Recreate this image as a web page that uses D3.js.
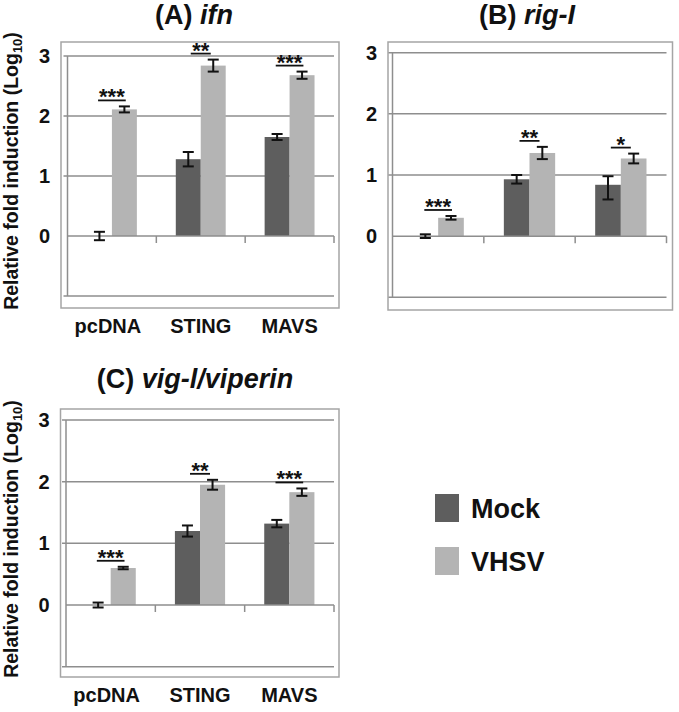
<!DOCTYPE html>
<html>
<head>
<meta charset="utf-8">
<script src="https://cdn.jsdelivr.net/npm/d3@7/dist/d3.min.js"></script>
<style>
  html, body { margin: 0; padding: 0; background: #fff; }
  svg { display: block; font-family: Arial, "Liberation Sans", sans-serif; }
</style>
</head>
<body>
<svg id="chart" width="679" height="712"></svg>
<script>
// ---------- data ----------
const categories = ["pcDNA", "STING", "MAVS"];
const seriesNames = ["Mock", "VHSV"];
const yTickValues = [0, 1, 2, 3];
const gridValues = [-1, 1, 2, 3];

const ifnMock = [0.00, 1.28, 1.65];
const ifnMockErr = [0.07, 0.12, 0.05];
const ifnVHSV = [2.11, 2.84, 2.68];
const ifnVHSVErr = [0.05, 0.10, 0.06];
const ifnSig = ["***", "**", "***"];

const rigMock = [0.00, 0.93, 0.84];
const rigMockErrUp = [0.03, 0.07, 0.14];
const rigMockErrDown = [0.03, 0.07, 0.24];
const rigVHSV = [0.30, 1.36, 1.27];
const rigVHSVErr = [0.03, 0.10, 0.08];
const rigSig = ["***", "**", "*"];

const vigMock = [0.00, 1.20, 1.32];
const vigMockErr = [0.04, 0.09, 0.06];
const vigVHSV = [0.60, 1.95, 1.83];
const vigVHSVErr = [0.02, 0.08, 0.06];
const vigSig = ["***", "**", "***"];

// ---------- styling / layout ----------
const colors = { Mock: "#5e5e5e", VHSV: "#b4b4b4" };
const gridColor = "#8e8e8e";
const frameColor = "#a5a5a5";

const panels = [
  { title: "(A) ", gene: "ifn",
    mock: ifnMock, mockUp: ifnMockErr, mockDown: ifnMockErr,
    vhsv: ifnVHSV, vhsvUp: ifnVHSVErr, vhsvDown: ifnVHSVErr, sig: ifnSig,
    frame: [61, 42, 339, 308], axisX: 67.5, right: 334, yTop: 56, yBottom: 296,
    titleX: 194, titleY: 24, yLabel: true, xLabels: true },
  { title: "(B) ", gene: "rig-I",
    mock: rigMock, mockUp: rigMockErrUp, mockDown: rigMockErrDown,
    vhsv: rigVHSV, vhsvUp: rigVHSVErr, vhsvDown: rigVHSVErr, sig: rigSig,
    frame: [388, 42, 672.5, 310], axisX: 392.5, right: 666.5, yTop: 52.7, yBottom: 297.3,
    titleX: 527, titleY: 24, yLabel: false, xLabels: false },
  { title: "(C) ", gene: "vig-l/viperin",
    mock: vigMock, mockUp: vigMockErr, mockDown: vigMockErr,
    vhsv: vigVHSV, vhsvUp: vigVHSVErr, vhsvDown: vigVHSVErr, sig: vigSig,
    frame: [60.5, 409, 339, 677], axisX: 66, right: 334, yTop: 420, yBottom: 666.7,
    titleX: 195, titleY: 388, yLabel: true, xLabels: true }
];

const svg = d3.select("#chart");

panels.forEach(p => {
  const g = svg.append("g");
  const [fx0, fy0, fx1, fy1] = p.frame;

  const y = d3.scaleLinear().domain([-1, 3]).range([p.yBottom, p.yTop]);
  const x0 = d3.scaleBand().domain(categories).range([p.axisX, p.right]).padding(0);
  const x1 = d3.scaleBand().domain(seriesNames).range([0, x0.bandwidth()])
    .paddingInner(0).paddingOuter(0.78);

  // frame
  g.append("rect")
    .attr("x", fx0).attr("y", fy0).attr("width", fx1 - fx0).attr("height", fy1 - fy0)
    .attr("fill", "none").attr("stroke", frameColor).attr("stroke-width", 1.5);

  // gridlines
  g.selectAll(".grid").data(gridValues).join("line")
    .attr("x1", p.axisX - 4).attr("x2", p.right)
    .attr("y1", d => y(d)).attr("y2", d => y(d))
    .attr("stroke", gridColor).attr("stroke-width", 1.5);

  // y axis line
  g.append("line")
    .attr("x1", p.axisX).attr("x2", p.axisX)
    .attr("y1", y(3)).attr("y2", y(-1))
    .attr("stroke", gridColor).attr("stroke-width", 1.5);

  // y tick labels
  g.selectAll(".ytl").data(yTickValues).join("text")
    .attr("x", fx0 - 11).attr("y", d => y(d))
    .attr("dy", "0.35em")
    .attr("text-anchor", "end")
    .attr("font-size", 20).attr("font-weight", "bold").attr("fill", "#111")
    .text(d => d);

  // bars
  const rows = categories.map((c, i) => ({
    cat: c, i,
    vals: [
      { s: "Mock", v: p.mock[i], up: p.mockUp[i], down: p.mockDown[i] },
      { s: "VHSV", v: p.vhsv[i], up: p.vhsvUp[i], down: p.vhsvDown[i] }
    ]
  }));

  rows.forEach(r => {
    r.vals.forEach(d => {
      const bx = x0(r.cat) + x1(d.s);
      g.append("rect")
        .attr("x", bx).attr("width", x1.bandwidth())
        .attr("y", y(Math.max(0, d.v)))
        .attr("height", Math.abs(y(d.v) - y(0)))
        .attr("fill", colors[d.s]);
    });
  });

  // zero axis line + category tick marks
  g.append("line")
    .attr("x1", p.axisX).attr("x2", p.right)
    .attr("y1", y(0)).attr("y2", y(0))
    .attr("stroke", gridColor).attr("stroke-width", 1.5);
  g.selectAll(".ctick").data(categories).join("line")
    .attr("x1", d => x0(d) + x0.bandwidth()).attr("x2", d => x0(d) + x0.bandwidth())
    .attr("y1", y(0)).attr("y2", y(0) + 7)
    .attr("stroke", gridColor).attr("stroke-width", 1.5);

  // error bars
  rows.forEach(r => {
    r.vals.forEach(d => {
      const cx = x0(r.cat) + x1(d.s) + x1.bandwidth() / 2;
      const yt = y(d.v + d.up), yb = y(d.v - d.down);
      g.append("line").attr("x1", cx).attr("x2", cx).attr("y1", yt).attr("y2", yb)
        .attr("stroke", "#111").attr("stroke-width", 2);
      [yt, yb].forEach(yy => {
        g.append("line").attr("x1", cx - 5.5).attr("x2", cx + 5.5).attr("y1", yy).attr("y2", yy)
          .attr("stroke", "#111").attr("stroke-width", 2);
      });
    });
  });

  // significance
  rows.forEach(r => {
    const top = d3.max(r.vals, d => d.v + d.up);
    const ly = y(top) - 6;
    const cx = x0(r.cat) + x0.bandwidth() / 2;
    const t = g.append("text")
      .attr("x", cx).attr("y", ly + 4)
      .attr("text-anchor", "middle")
      .attr("font-size", 22).attr("font-weight", "bold").attr("fill", "#111")
      .text(p.sig[r.i]);
    const w = Math.max(20, t.node().getComputedTextLength() + 2);
    g.append("line").attr("x1", cx - w / 2).attr("x2", cx + w / 2)
      .attr("y1", ly).attr("y2", ly)
      .attr("stroke", "#111").attr("stroke-width", 1.8);
  });

  // x labels
  if (p.xLabels) {
    g.selectAll(".xl").data(categories).join("text")
      .attr("x", d => x0(d) + x0.bandwidth() / 2 + (d === "pcDNA" ? -4 : 0))
      .attr("y", fy1 + 25)
      .attr("text-anchor", "middle")
      .attr("font-size", 20).attr("font-weight", "bold").attr("fill", "#111")
      .text(d => d);
  }

  // y label
  if (p.yLabel) {
    const cy = (fy0 + fy1) / 2 - 4;
    const t = g.append("text")
      .attr("transform", `translate(18,${cy}) rotate(-90)`)
      .attr("text-anchor", "middle")
      .attr("font-size", 19.5).attr("font-weight", "bold").attr("fill", "#111");
    t.append("tspan").text("Relative fold induction (Log");
    t.append("tspan").attr("font-size", 13).attr("dy", 4).text("10");
    t.append("tspan").attr("dy", -4).text(")");
  }

  // title
  const tt = g.append("text")
    .attr("x", p.titleX).attr("y", p.titleY)
    .attr("text-anchor", "middle")
    .attr("font-size", 27).attr("font-weight", "bold").attr("fill", "#111");
  tt.append("tspan").text(p.title);
  tt.append("tspan").attr("font-style", "italic").text(p.gene);
});

// legend
const legend = svg.append("g");
const legendY = [494, 547];
seriesNames.forEach((s, i) => {
  legend.append("rect")
    .attr("x", 435).attr("y", legendY[i]).attr("width", 24).attr("height", 28)
    .attr("fill", colors[s]);
  legend.append("text")
    .attr("x", 471).attr("y", legendY[i] + 24)
    .attr("font-size", 27).attr("font-weight", "bold").attr("fill", "#111")
    .text(s);
});
</script>
</body>
</html>
